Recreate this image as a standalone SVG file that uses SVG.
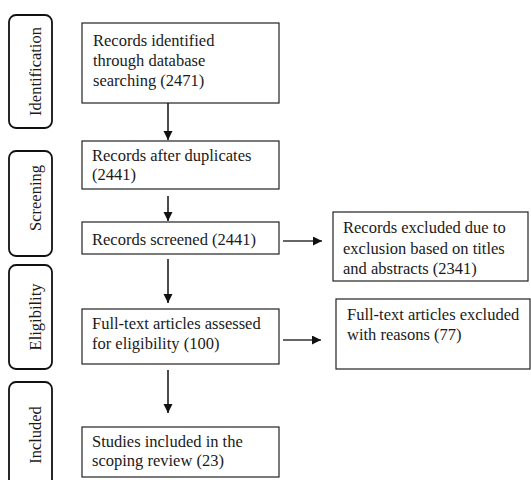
<svg xmlns="http://www.w3.org/2000/svg" width="531" height="480" viewBox="0 0 531 480">
<style>
text{font-family:"Liberation Serif","Times New Roman",serif;font-size:16.5px;fill:#1a1a1a}
.box{fill:#fff;stroke:#222;stroke-width:1.2}
.stage{fill:#fff;stroke:#111;stroke-width:1.8}
.conn{stroke:#111;stroke-width:1.5;fill:none}
.hconn{stroke:#333;stroke-width:1.5;fill:none}
</style>
<defs>
<marker id="ah" markerUnits="userSpaceOnUse" markerWidth="12" markerHeight="12" refX="9" refY="4.5" orient="auto">
<path d="M0,0 L9,4.5 L0,9 Z" fill="#111"/>
</marker>
</defs>
<rect width="531" height="480" fill="#fff"/>
<g id="stage-identification">
<rect class="stage" x="9" y="15" width="43" height="113" rx="7"/>
<text transform="translate(41,71.5) rotate(-90)" text-anchor="middle">Identification</text>
</g>
<g id="stage-screening">
<rect class="stage" x="9" y="151" width="43" height="105" rx="7"/>
<text transform="translate(41,198) rotate(-90)" text-anchor="middle">Screening</text>
</g>
<g id="stage-eligibility">
<rect class="stage" x="9" y="265" width="43" height="104" rx="7"/>
<text transform="translate(41,317) rotate(-90)" text-anchor="middle">Eligibility</text>
</g>
<g id="stage-included">
<rect class="stage" x="9" y="382" width="43" height="115" rx="7"/>
<text transform="translate(41,435) rotate(-90)" text-anchor="middle">Included</text>
</g>
<g id="identified">
<rect class="box" x="82" y="23" width="197" height="80"/>
<text x="93" y="46">Records identified</text>
<text x="93" y="66">through database</text>
<text x="93" y="85.5">searching (2471)</text>
</g>
<g id="after-duplicates">
<rect class="box" x="82" y="141" width="197" height="48"/>
<text x="92" y="161">Records after duplicates</text>
<text x="92" y="180">(2441)</text>
</g>
<g id="screened">
<rect class="box" x="82" y="222" width="197" height="32"/>
<text x="92" y="245">Records screened (2441)</text>
</g>
<g id="assessed">
<rect class="box" x="82" y="309" width="197" height="55"/>
<text x="92" y="329">Full-text articles assessed</text>
<text x="92" y="348.5">for eligibility (100)</text>
</g>
<g id="included">
<rect class="box" x="82" y="427" width="197" height="50"/>
<text x="92" y="446.5">Studies included in the</text>
<text x="92" y="466">scoping review (23)</text>
</g>
<g id="excluded-titles">
<rect class="box" x="333" y="212" width="195" height="69"/>
<text x="343" y="233">Records excluded due to</text>
<text x="343" y="253.5">exclusion based on titles</text>
<text x="343" y="274">and abstracts (2341)</text>
</g>
<g id="excluded-fulltext">
<rect class="box" x="336" y="299" width="194" height="70"/>
<text x="347" y="320">Full-text articles excluded</text>
<text x="347" y="340">with reasons (77)</text>
</g>
<g id="connectors">
<line class="conn" x1="168" y1="103" x2="168" y2="140" marker-end="url(#ah)"/>
<line class="conn" x1="168" y1="196" x2="168" y2="221" marker-end="url(#ah)"/>
<line class="conn" x1="168" y1="259" x2="168" y2="303" marker-end="url(#ah)"/>
<line class="conn" x1="168" y1="370" x2="168" y2="413" marker-end="url(#ah)"/>
<line class="hconn" x1="283" y1="241" x2="322" y2="241" marker-end="url(#ah)"/>
<line class="hconn" x1="283" y1="340" x2="321" y2="340" marker-end="url(#ah)"/>
</g>
</svg>
